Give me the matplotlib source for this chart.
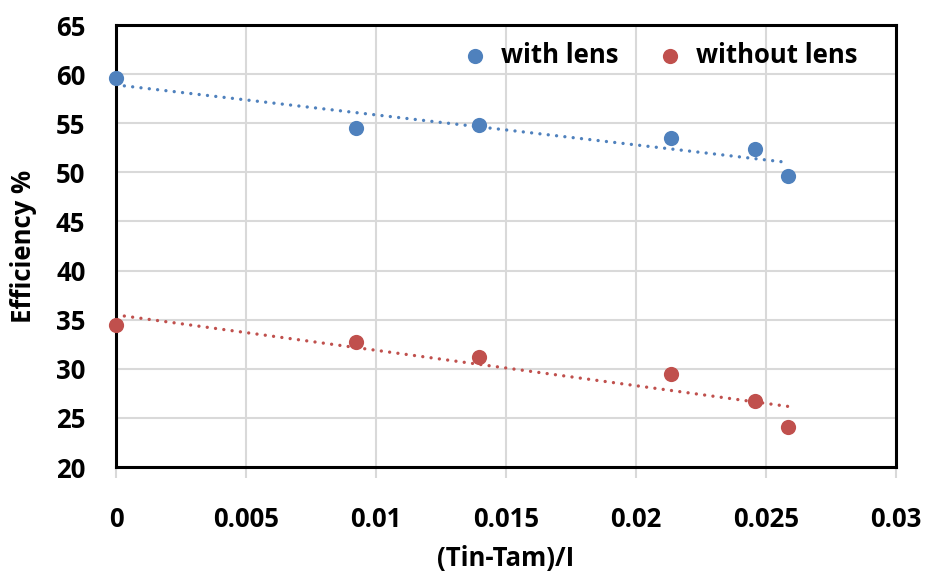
import matplotlib.pyplot as plt
import numpy as np

x_vals = [0.0, 0.00923, 0.01396, 0.02135, 0.02458, 0.02585]
with_lens = [59.6, 54.5, 54.8, 53.5, 52.4, 49.6]
without_lens = [34.5, 32.7, 31.2, 29.5, 26.7, 24.1]
x_ticks = [0, 0.005, 0.01, 0.015, 0.02, 0.025, 0.03]
x_tick_labels = ['0', '0.005', '0.01', '0.015', '0.02', '0.025', '0.03']
y_ticks = [20, 25, 30, 35, 40, 45, 50, 55, 60, 65]

blue = '#4F81BD'
red = '#C0504D'

plt.rcParams['font.family'] = ['Open Sans', 'DejaVu Sans']
plt.rcParams['font.weight'] = 'bold'

fig = plt.figure(figsize=(9.26, 5.71), dpi=100)
ax = fig.add_axes([0.1253, 0.1821, 0.8423, 0.7741])

x = np.array(x_vals)
for y, c, lab in [(with_lens, blue, 'with lens'), (without_lens, red, 'without lens')]:
    y = np.array(y)
    k, b = np.polyfit(x, y, 1)
    ax.plot([x.min(), x.max()], [k * x.min() + b, k * x.max() + b],
            linestyle=(0, (0.01, 2.5)), color=c, linewidth=2.4, dash_capstyle='round', zorder=2)
    ax.scatter(x, y, s=120, color=c, label=lab, zorder=3, clip_on=False, linewidths=0)

ax.set_xlim(0, 0.03)
ax.set_ylim(20, 65)
ax.set_xticks(x_ticks)
ax.set_xticklabels(x_tick_labels, fontweight='bold')
ax.set_yticks(y_ticks)
ax.set_yticklabels([str(v) for v in y_ticks], fontweight='bold')
ax.grid(True, color='#d9d9d9', linewidth=1.5)
ax.set_axisbelow(True)
ax.tick_params(axis='x', direction='out', length=8, width=1.5, color='#d9d9d9', pad=20, labelsize=18.5)
ax.tick_params(axis='y', length=0, pad=22, labelsize=18.5)
for s in ax.spines.values():
    s.set_linewidth(2.2)
    s.set_color('black')

ax.set_xlabel('(Tin-Tam)/I', fontsize=18.5, fontweight='bold', labelpad=9)
ax.set_ylabel('Efficiency %', fontsize=18.5, fontweight='bold', labelpad=14)

ax.legend(loc='upper right', bbox_to_anchor=(0.98, 1.015), ncol=2, frameon=False,
          handletextpad=0.0, columnspacing=1.0, markerscale=1.0,
          prop={'family': 'Open Sans', 'weight': 'bold', 'size': 18.5})

plt.savefig('out.png', dpi=100)
